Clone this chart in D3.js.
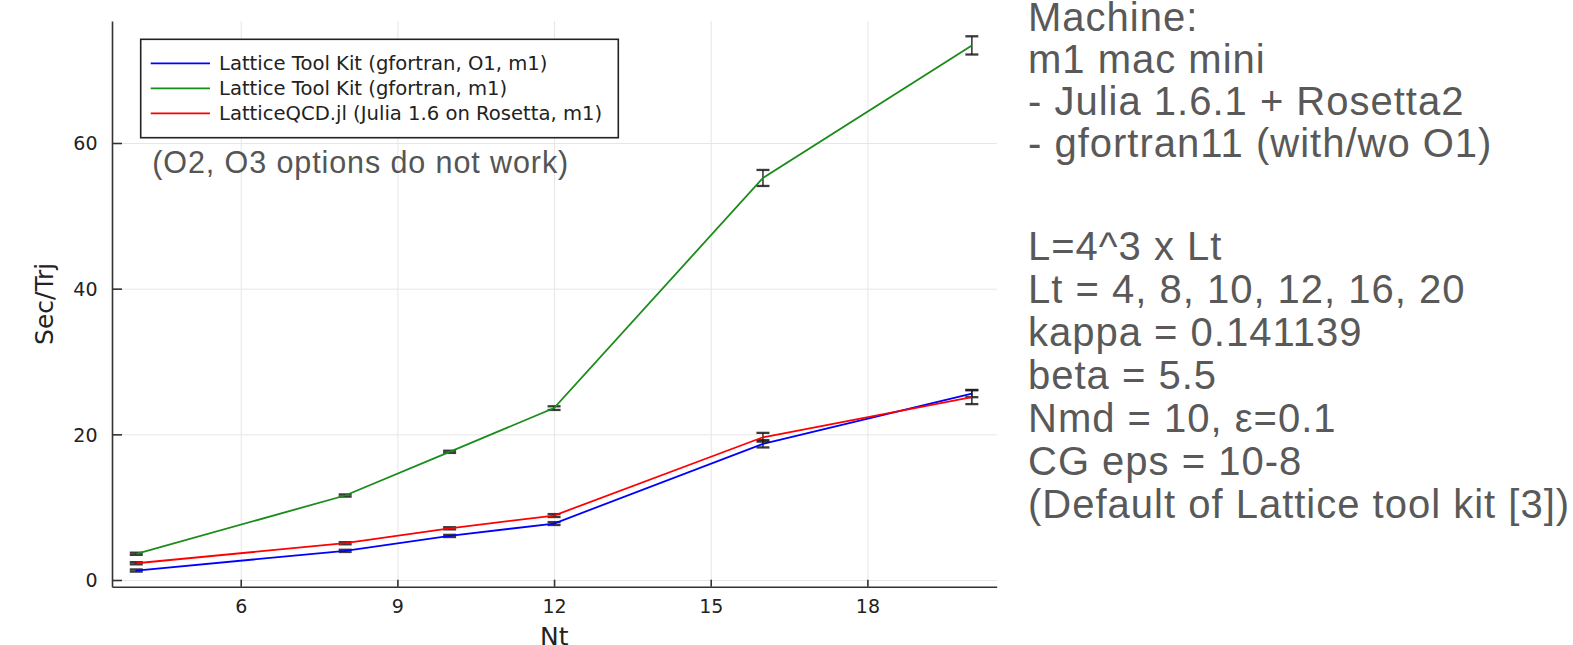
<!DOCTYPE html>
<html>
<head>
<meta charset="utf-8">
<script src="https://cdn.jsdelivr.net/npm/d3@7"></script>
<style>
  body { margin: 0; background: #fff; }
  svg { display: block; }
</style>
</head>
<body>
<svg id="chart" width="1573" height="645"></svg>
<script>
// values
var nt = [4, 8, 10, 12, 16, 20];
var seriesNames = [
    "Lattice Tool Kit (gfortran, O1, m1)",
    "Lattice Tool Kit (gfortran, m1)",
    "LatticeQCD.jl (Julia 1.6 on Rosetta, m1)"
];
var ltkO1 = [1.3, 4.0, 6.05, 7.75, 18.7, 25.6];
var ltkO1Err = [0.15, 0.15, 0.15, 0.2, 0.5, 0.5];
var ltk = [3.6, 11.6, 17.6, 23.6, 55.2, 73.4];
var ltkErr = [0.15, 0.15, 0.15, 0.25, 1.1, 1.25];
var julia = [2.3, 5.05, 7.1, 8.85, 19.6, 25.1];
var juliaErr = [0.15, 0.15, 0.15, 0.2, 0.6, 0.95];
var seriesColors = ["#0000ff", "#1a8c1a", "#ff0000"];

var xTicks = [6, 9, 12, 15, 18];
var yTicks = [0, 20, 40, 60];
var xDomain = [3.535, 20.476];
var yDomain = [-0.92, 76.75];

var note = "(O2, O3 options do not work)";
var machineText = [
    "Machine:",
    "m1 mac mini",
    "- Julia 1.6.1 + Rosetta2",
    "- gfortran11 (with/wo O1)"
];
var paramText = [
    "L=4^3 x Lt",
    "Lt = 4, 8, 10, 12, 16, 20",
    "kappa = 0.141139",
    "beta = 5.5",
    "Nmd = 10, \u03b5=0.1",
    "CG eps = 10-8",
    "(Default of Lattice tool kit [3])"
];

var series = [
    {name: seriesNames[0], values: ltkO1, err: ltkO1Err, color: seriesColors[0]},
    {name: seriesNames[1], values: ltk, err: ltkErr, color: seriesColors[1]},
    {name: seriesNames[2], values: julia, err: juliaErr, color: seriesColors[2]}
];

var svg = d3.select("#chart");
var pLeft = 112, pRight = 996.7, pTop = 21, pBottom = 586.7;
var tickFont = "DejaVu Sans, sans-serif";
var noteFont = "Liberation Sans, Arial, sans-serif";

var x = d3.scaleLinear().domain(xDomain).range([pLeft, pRight]);
var y = d3.scaleLinear().domain(yDomain).range([pBottom, pTop]);

// grid
svg.append("g")
    .attr("transform", "translate(0," + pBottom + ")")
    .call(d3.axisBottom(x).tickValues(xTicks).tickSize(-(pBottom - pTop)).tickFormat(""))
    .call(function(g) {
        g.select(".domain").remove();
        g.selectAll("line").attr("stroke", "#e6e6e6").attr("stroke-width", 1);
    });
svg.append("g")
    .attr("transform", "translate(" + pLeft + ",0)")
    .call(d3.axisLeft(y).tickValues(yTicks).tickSize(-(pRight - pLeft)).tickFormat(""))
    .call(function(g) {
        g.select(".domain").remove();
        g.selectAll("line").attr("stroke", "#e6e6e6").attr("stroke-width", 1);
    });

// axes, ticks pointing inward
var gx = svg.append("g")
    .attr("transform", "translate(0," + pBottom + ")")
    .call(d3.axisBottom(x).tickValues(xTicks).tickSizeInner(-7).tickSizeOuter(0).tickPadding(12.5));
var gy = svg.append("g")
    .attr("transform", "translate(" + pLeft + ",0)")
    .call(d3.axisLeft(y).tickValues(yTicks).tickSizeInner(-10).tickSizeOuter(0).tickPadding(14.5));

[gx, gy].forEach(function(g) {
    g.select(".domain").attr("stroke", "#333").attr("stroke-width", 1.6);
    g.selectAll(".tick line").attr("stroke", "#333").attr("stroke-width", 1.6);
    g.selectAll(".tick text")
        .attr("fill", "#222")
        .style("font-family", tickFont)
        .style("font-size", "19px");
});
gy.selectAll(".tick text").attr("dy", "0.36em");

// axis titles
svg.append("text")
    .attr("x", (pLeft + pRight) / 2)
    .attr("y", 645)
    .attr("text-anchor", "middle")
    .attr("fill", "#222")
    .style("font-family", tickFont)
    .style("font-size", "25px")
    .text("Nt");

svg.append("text")
    .attr("transform", "translate(53," + ((pTop + pBottom) / 2) + ") rotate(-90)")
    .attr("text-anchor", "middle")
    .attr("fill", "#222")
    .style("font-family", tickFont)
    .style("font-size", "25px")
    .text("Sec/Trj");

// series: error bars then line
var line = d3.line()
    .x(function(d) { return x(d.x); })
    .y(function(d) { return y(d.y); });

var plot = svg.append("g");
var capHalf = 6.5;

series.forEach(function(s) {
    var pts = nt.map(function(v, i) { return {x: v, y: s.values[i], e: s.err[i]}; });

    var eb = plot.append("g")
        .attr("stroke", "#1a1a1a")
        .attr("stroke-opacity", 0.85);

    eb.selectAll("line.bar").data(pts).enter().append("line")
        .attr("class", "bar")
        .attr("x1", function(d) { return x(d.x); })
        .attr("x2", function(d) { return x(d.x); })
        .attr("y1", function(d) { return y(d.y - d.e); })
        .attr("y2", function(d) { return y(d.y + d.e); })
        .attr("stroke-width", 1.6);

    eb.selectAll("line.cap").data(pts.concat(pts).map(function(d, i) {
            return {x: d.x, y: i < pts.length ? d.y + d.e : d.y - d.e};
        }))
        .enter().append("line")
        .attr("class", "cap")
        .attr("x1", function(d) { return x(d.x) - capHalf; })
        .attr("x2", function(d) { return x(d.x) + capHalf; })
        .attr("y1", function(d) { return y(d.y); })
        .attr("y2", function(d) { return y(d.y); })
        .attr("stroke-width", 2.3);

    plot.append("path")
        .datum(pts)
        .attr("fill", "none")
        .attr("stroke", s.color)
        .attr("stroke-width", 1.8)
        .attr("d", line);
});

// legend
var legend = svg.append("g").attr("transform", "translate(140.7,39.3)");
legend.append("rect")
    .attr("width", 477.6)
    .attr("height", 98.4)
    .attr("fill", "#fff")
    .attr("stroke", "#222")
    .attr("stroke-width", 1.6);

var items = legend.selectAll("g.item").data(series).enter().append("g")
    .attr("class", "item")
    .attr("transform", function(d, i) { return "translate(0," + (24 + i * 25) + ")"; });
items.append("line")
    .attr("x1", 10).attr("x2", 69.3)
    .attr("stroke", function(d) { return d.color; })
    .attr("stroke-width", 1.8);
items.append("text")
    .attr("x", 78.3)
    .attr("dy", "0.36em")
    .attr("fill", "#222")
    .style("font-family", tickFont)
    .style("font-size", "19.6px")
    .text(function(d) { return d.name; });

// annotation inside the plot
svg.append("text")
    .attr("x", 152.3)
    .attr("y", 173)
    .attr("fill", "#555")
    .style("font-family", noteFont)
    .style("font-size", "30.5px")
    .style("letter-spacing", "0.9px")
    .text(note);

// notes on the right
function noteBlock(lines, y0, step) {
    svg.append("g").selectAll("text").data(lines).enter().append("text")
        .attr("x", 1028)
        .attr("y", function(d, i) { return y0 + i * step; })
        .attr("fill", "#595959")
        .style("font-family", noteFont)
        .style("font-size", "40px")
        .style("letter-spacing", "1px")
        .text(function(d) { return d; });
}
noteBlock(machineText, 31, 42);
noteBlock(paramText, 260, 43);
</script>
</body>
</html>
